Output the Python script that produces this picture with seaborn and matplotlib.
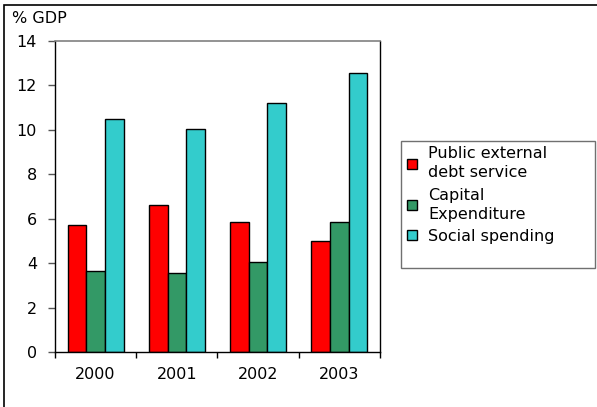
import pandas as pd
import numpy as np
import matplotlib
matplotlib.use("Agg")
import matplotlib.pyplot as plt
from matplotlib.patches import Rectangle
import seaborn as sns

years = ["2000", "2001", "2002", "2003"]
debt_service = [5.7, 6.6, 5.85, 5.0]
capital_exp = [3.65, 3.55, 4.05, 5.85]
social_spending = [10.5, 10.05, 11.2, 12.55]
series_names = ["Public external\ndebt service", "Capital\nExpenditure", "Social spending"]
colors = ["#FF0000", "#339966", "#33CCCC"]

# long format table for seaborn
df = pd.DataFrame({
    "year": years * 3,
    "value": debt_service + capital_exp + social_spending,
    "series": [series_names[0]] * 4 + [series_names[1]] * 4 + [series_names[2]] * 4,
})

sns.set_theme(style="white")
# the original text is wide, DejaVu Sans is the widest family at hand
plt.rcParams["font.family"] = ["DejaVu Sans"]
plt.rcParams["text.color"] = "black"
plt.rcParams["xtick.color"] = "black"
plt.rcParams["ytick.color"] = "black"
fs = 11.5

fig = plt.figure(figsize=(5.97, 4.07), dpi=100)
ax = fig.add_axes([55 / 597, 1 - 352 / 407, 325 / 597, 311 / 407])

sns.barplot(data=df, x="year", y="value", hue="series", palette=colors,
            width=0.69, edgecolor="black", linewidth=1.0, saturation=1,
            ax=ax, legend=True)

ax.set_xlim(-0.5, 3.5)
ax.set_ylim(0, 14)
ax.set_yticks(np.arange(0, 15, 2))
ax.set_xlabel("")
ax.set_ylabel("")

# category boundary ticks on x
ax.set_xticks(np.arange(-0.5, 4, 1), minor=True)
ax.tick_params(axis="x", which="major", length=0, pad=11, labelsize=fs, labelcolor="black")
ax.tick_params(axis="x", which="minor", length=4, width=1, color="black", direction="out", bottom=True)
ax.tick_params(axis="y", which="major", length=5, width=1, color="#555555", direction="out",
               left=True, pad=8, labelsize=fs, labelcolor="black")

for side in ["left", "bottom", "right"]:
    ax.spines[side].set_color("black")
    ax.spines[side].set_linewidth(1.0)
ax.spines["top"].set_color("#808080")
ax.spines["top"].set_linewidth(1.2)

handles, labels = ax.get_legend_handles_labels()
ax.get_legend().remove()
leg = ax.legend(handles, labels, loc="upper left", bbox_to_anchor=(404 / 597, 1 - 143 / 407),
                bbox_transform=fig.transFigure, frameon=False,
                fontsize=fs, handlelength=0.6, handleheight=0.6, handletextpad=0.7,
                labelspacing=0.45, borderpad=0.2, borderaxespad=0)
for h in leg.legend_handles:
    h.set_edgecolor("black")
for t in leg.get_texts():
    t.set_color("black")
    t.set_linespacing(1.35)

# legend box, drawn on its own to match the original size
fig.patches.append(Rectangle((401 / 597, 1 - 268 / 407), 194 / 597, 127 / 407,
                             transform=fig.transFigure, fill=False,
                             edgecolor="#707070", linewidth=1.0))

fig.text(12 / 597, 1 - 23 / 407, "% GDP", fontsize=fs, ha="left", va="baseline")

# outer chart frame
fig.patches.append(Rectangle((4 / 597, -0.1), 1.2, 1 - 5 / 407 + 0.1, transform=fig.transFigure,
                             fill=False, edgecolor="black", linewidth=1.2))

fig.savefig("out.png", dpi=100)
